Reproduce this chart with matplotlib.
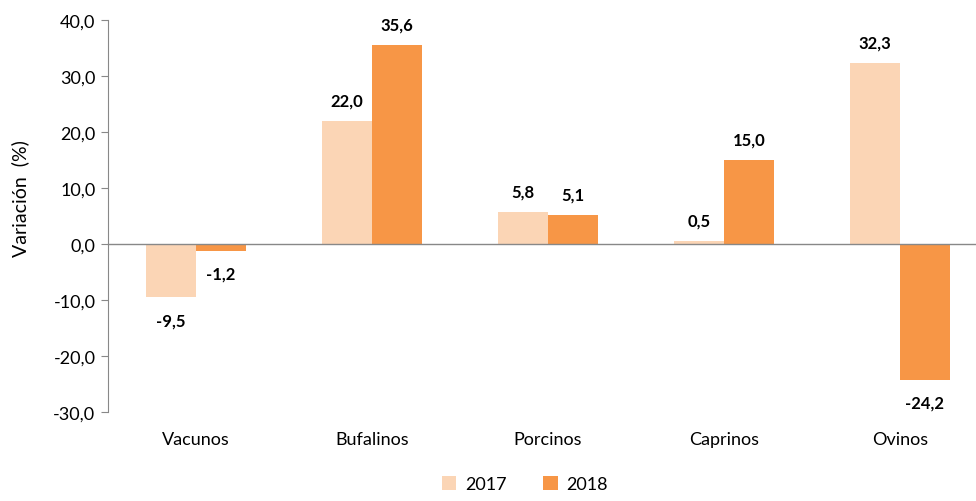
import matplotlib

matplotlib.use("Agg")
import matplotlib.pyplot as plt
import numpy as np

categories = ["Vacunos", "Bufalinos", "Porcinos", "Caprinos", "Ovinos"]
var_2017 = [-9.5, 22.0, 5.8, 0.5, 32.3]
var_2018 = [-1.2, 35.6, 5.1, 15.0, -24.2]
years = ["2017", "2018"]
yticks = [-30, -20, -10, 0, 10, 20, 30, 40]

C17, C18 = "#FBD5B5", "#F79646"
plt.rcParams["font.family"] = ["Lato", "DejaVu Sans"]

fig = plt.figure(figsize=(9.76, 5.02), dpi=100)
ax = fig.add_axes([108 / 976, 1 - 413 / 502, 880 / 976, 392 / 502])

x = np.arange(len(categories))
w = 0.284
b1 = ax.bar(x - w / 2, var_2017, w, color=C17, label=years[0])
b2 = ax.bar(x + w / 2, var_2018, w, color=C18, label=years[1])

def fmt(v):
    return f"{v:.1f}".replace(".", ",")

for bars, vals in ((b1, var_2017), (b2, var_2018)):
    for r, v in zip(bars, vals):
        cx = r.get_x() + r.get_width() / 2
        if v >= 0:
            ax.annotate(fmt(v), (cx, v), xytext=(0, 9), textcoords="offset points",
                        ha="center", va="bottom", fontsize=12, fontweight="bold")
        else:
            ax.annotate(fmt(v), (cx, v), xytext=(0, -11), textcoords="offset points",
                        ha="center", va="top", fontsize=12, fontweight="bold")

ax.set_xlim(-0.5, len(categories) - 0.5)
ax.set_ylim(-30, 40)
ax.set_yticks(yticks)
ax.set_yticklabels([fmt(v) for v in yticks], fontsize=13)
ax.set_xticks(x)
ax.set_xticklabels(categories, fontsize=13)
ax.tick_params(axis="x", length=0, pad=14)
ax.tick_params(axis="y", length=5, color="#888888", direction="out", pad=4)
for s in ("top", "right", "bottom"):
    ax.spines[s].set_visible(False)
ax.spines["left"].set_color("#888888")
ax.axhline(0, color="#888888", lw=1, clip_on=False)
ax.set_ylabel("Variación  (%)", fontsize=14)
ax.yaxis.set_label_coords(-0.09, 0.548)

fig.legend(loc="lower center", bbox_to_anchor=(525 / 976, -0.015), ncol=2, frameon=False,
           fontsize=13, handlelength=0.8, handleheight=0.8, columnspacing=2.0,
           handletextpad=0.5)

fig.savefig("out.png", dpi=100)
